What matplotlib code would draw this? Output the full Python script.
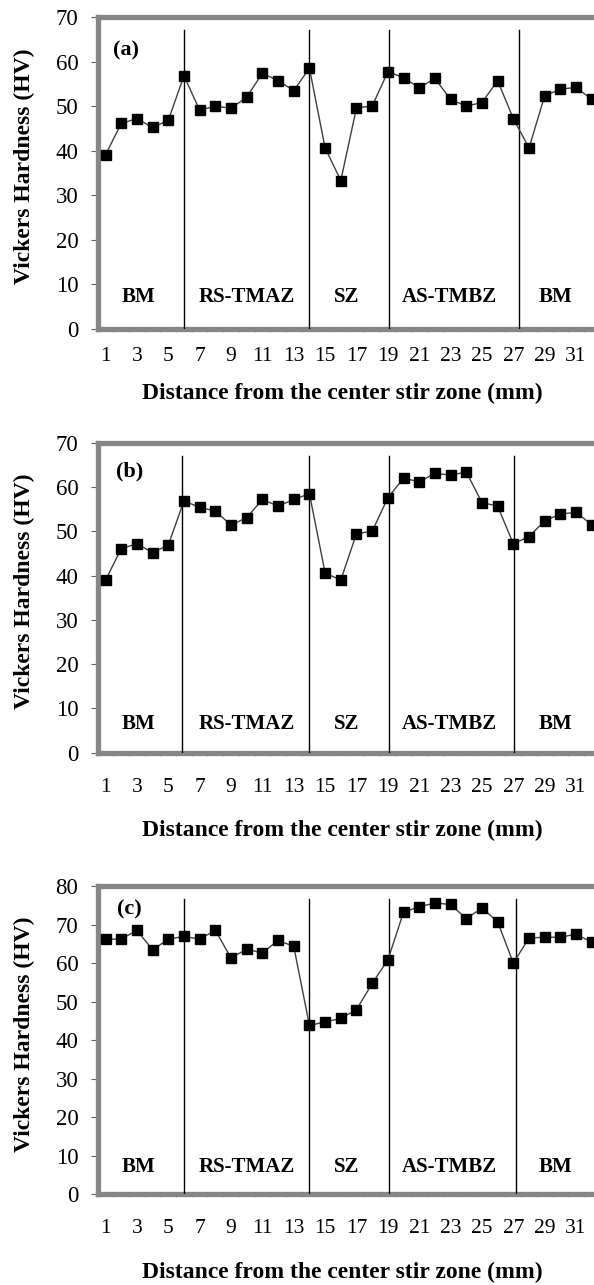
import matplotlib
matplotlib.use("Agg")
import matplotlib.pyplot as plt
import numpy as np

plt.rcParams['font.family'] = ['Liberation Serif', 'DejaVu Serif']

# distance positions (mm)
distance = np.arange(1, 33)

# Vickers hardness
hv_a = [39.1, 46.1, 47.2, 45.2, 46.8, 56.8, 49.1, 50.0, 49.5, 52.0,
        57.4, 55.7, 53.5, 58.5, 40.6, 33.3, 49.6, 50.0, 57.7, 56.4,
        54.1, 56.2, 51.5, 50.0, 50.8, 55.7, 47.2, 40.6, 52.3, 53.8,
        54.2, 51.5]
hv_b = [39.0, 46.1, 47.2, 45.2, 46.9, 56.9, 55.4, 54.6, 51.4, 53.1,
        57.2, 55.7, 57.2, 58.5, 40.6, 39.0, 49.5, 50.0, 57.6, 62.0,
        61.2, 63.1, 62.7, 63.4, 56.5, 55.7, 47.2, 48.8, 52.4, 53.9,
        54.3, 51.5]
hv_c = [66.2, 66.2, 68.5, 63.4, 66.2, 66.9, 66.2, 68.5, 61.3, 63.6,
        62.6, 65.9, 64.3, 43.8, 44.7, 45.6, 47.9, 54.7, 60.8, 73.2,
        74.6, 75.6, 75.2, 71.5, 74.3, 70.7, 60.0, 66.5, 66.7, 66.7,
        67.5, 65.4]

# zone boundaries (hand drawn in the original, so slightly off per panel)
bounds_a = [6.0, 13.95, 19.1, 27.35]
bounds_b = [5.9, 14.0, 19.05, 27.05]
bounds_c = [6.0, 14.0, 19.05, 27.15]
zone_names = ['BM', 'RS-TMAZ', 'SZ', 'AS-TMBZ', 'BM']
zone_x = [3.1, 10.0, 16.4, 22.9, 29.7]

panels = [
    # data, bounds, tag, ymax, line top, zone label y, tag pos, axes rect, tick pad, xlabel y
    (hv_a, bounds_a, '(a)', 70, 67.0, 7.2, (2.3, 62.5),
     [0.1645, 0.7440, 0.8845, 0.2428], 13.0, -64 / 312),
    (hv_b, bounds_b, '(b)', 70, 67.0, 6.5, (2.55, 63.5),
     [0.1645, 0.4142, 0.8845, 0.2412], 18.5, -78 / 310),
    (hv_c, bounds_c, '(c)', 80, 76.5, 7.1, (2.5, 73.8),
     [0.1645, 0.0708, 0.8845, 0.2397], 18.0, -78 / 308),
]

fig = plt.figure(figsize=(5.94, 12.85), dpi=100)

for hv, bounds, tag, ymax, ltop, zy, tagpos, rect, xpad, xly in panels:
    ax = fig.add_axes(rect)
    ax.plot(distance, hv, color='#404040', lw=1.0, marker='s', ms=6.8,
            mfc='black', mec='black', zorder=5, clip_on=False)
    for b in bounds:
        ax.plot([b, b], [0, ltop], color='black', lw=1.0, zorder=3)
    for name, zx in zip(zone_names, zone_x):
        ax.text(zx, zy, name, ha='center', va='center', fontsize=15,
                fontweight='bold')
    ax.text(tagpos[0], tagpos[1], tag, ha='center', va='center',
            fontsize=16, fontweight='bold')

    ax.set_xlim(0.6, 34)
    ax.set_ylim(0, ymax)
    ax.set_yticks(np.arange(0, ymax + 1, 10))
    ax.set_xticks(np.arange(1, 33, 2))
    ax.set_xticks(np.arange(0.5, 34, 1), minor=True)
    ax.tick_params(axis='y', direction='out', length=5, width=0.8,
                   color='#606060', labelsize=16.5, pad=9)
    ax.tick_params(axis='x', which='major', length=0, labelsize=15.5, pad=xpad)
    ax.tick_params(axis='x', which='minor', direction='out', length=2.5,
                   width=0.8, color='#b0b0b0')
    for sp in ax.spines.values():
        sp.set_color('#868686')
        sp.set_linewidth(3.8)

    ax.text(0.465, xly, 'Distance from the center stir zone (mm)',
            transform=ax.transAxes, ha='center', va='center', fontsize=17,
            fontweight='bold')
    ax.text(-0.139, 0.52, 'Vickers Hardness (HV)', transform=ax.transAxes,
            rotation=90, ha='center', va='center', fontsize=17,
            fontweight='bold')

fig.savefig('out.png', dpi=100)
